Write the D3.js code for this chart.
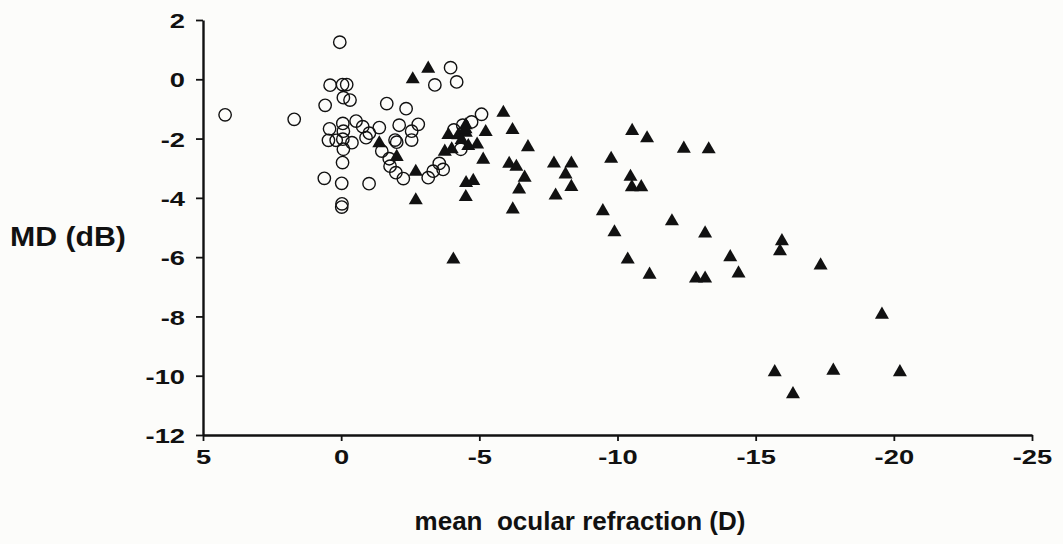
<!DOCTYPE html>
<html>
<head>
<meta charset="utf-8">
<script src="https://cdn.jsdelivr.net/npm/d3@7"></script>
<style>
  html, body { margin: 0; padding: 0; background: #fcfcfa; }
  svg { display: block; }
</style>
</head>
<body>
<svg id="chart" width="1063" height="544"></svg>
<script>
// Emmetropic / hyperopic eyes (open circles): [refraction D, MD dB]
const openGroup = [
  [4.2, -1.2], [1.7, -1.35], [0.05, 1.25], [0.4, -0.2], [-0.05, -0.18], [-0.2, -0.18],
  [-0.08, -0.62], [-0.32, -0.7], [0.58, -0.88], [0.42, -1.67], [-0.06, -1.49], [-0.08, -1.75],
  [-0.54, -1.41], [-0.78, -1.6], [-1.02, -1.82], [-1.38, -1.63], [0.46, -2.06], [0.18, -2.06],
  [-0.06, -2.02], [-0.39, -2.14], [-0.9, -1.97], [-1.95, -2.05], [-2.1, -1.55], [-1.65, -0.82],
  [-0.08, -2.36], [-0.05, -2.81], [0.61, -3.34], [-0.02, -3.51], [-1.01, -3.52], [-0.02, -4.31],
  [-0.03, -4.2], [-1.47, -2.42], [-1.74, -2.68], [-1.77, -2.93], [-1.98, -3.15], [-2.25, -3.35],
  [-2.01, -2.12], [-2.35, -0.99], [-2.55, -1.75], [-2.55, -2.05], [-2.79, -1.52], [-3.15, -3.32],
  [-3.33, -3.1], [-3.69, -3.04], [-3.55, -2.84], [-3.39, -0.19], [-3.96, 0.39], [-4.18, -0.09],
  [-4.08, -1.71], [-4.72, -1.44], [-5.08, -1.18], [-4.33, -2.36], [-4.4, -1.55]
];

// Myopic eyes (filled triangles): [refraction D, MD dB]
const filledGroup = [
  [-2.59, 0.0], [-3.15, 0.36], [-1.38, -2.16], [-2.01, -2.62], [-2.7, -3.12], [-2.7, -4.08],
  [-3.88, -1.88], [-4.24, -1.89], [-3.75, -2.44], [-4.0, -2.36], [-4.51, -1.55], [-4.51, -1.8],
  [-4.6, -2.25], [-4.92, -2.2], [-5.23, -1.78], [-5.14, -2.71], [-4.36, -2.05], [-4.52, -3.5],
  [-4.78, -3.43], [-4.51, -3.97], [-4.06, -6.08], [-5.87, -1.13], [-6.2, -1.71], [-6.76, -2.29],
  [-6.08, -2.85], [-6.34, -2.95], [-6.64, -3.32], [-6.44, -3.72], [-6.21, -4.39], [-7.7, -2.84],
  [-8.33, -2.84], [-8.12, -3.21], [-8.33, -3.63], [-7.76, -3.92], [-9.77, -2.68], [-9.47, -4.45],
  [-9.89, -5.16], [-10.53, -1.74], [-11.07, -1.99], [-10.47, -3.29], [-10.52, -3.64], [-10.86, -3.64],
  [-10.37, -6.08], [-11.16, -6.59], [-11.97, -4.79], [-12.4, -2.34], [-13.3, -2.36], [-13.17, -5.2],
  [-12.84, -6.72], [-13.17, -6.72], [-14.08, -6.0], [-14.38, -6.55], [-15.95, -5.46], [-15.88, -5.8],
  [-17.35, -6.28], [-19.57, -7.94], [-15.69, -9.88], [-16.35, -10.62], [-17.81, -9.83], [-20.22, -9.88],
  [-4.5, -1.68]
];

const xTicks = [5, 0, -5, -10, -15, -20, -25];
const yTicks = [2, 0, -2, -4, -6, -8, -10, -12];
const xTitle = "mean\u00a0\u00a0ocular refraction (D)";
const yTitle = "MD (dB)";

const svg = d3.select("#chart");
const font = "'Liberation Sans', Arial, Helvetica, sans-serif";
const ink = "#111";
const labelStretch = 1.3;   // tick labels are set in a wide bold face
// plain hyphen for negative numbers
const fmt = d => String(d);

const x = d3.scaleLinear().domain([5, -25]).range([203, 1032]);
const y = d3.scaleLinear().domain([-12, 2]).range([435, 20]);

// Axes
const xAxis = svg.append("g")
  .attr("transform", `translate(0,${y(-12)})`)
  .call(d3.axisBottom(x).tickValues(xTicks).tickFormat(fmt).tickSize(6).tickPadding(8).tickSizeOuter(0));
const yAxis = svg.append("g")
  .attr("transform", `translate(${x(5)},0)`)
  .call(d3.axisLeft(y).tickValues(yTicks).tickFormat(fmt).tickSize(7).tickPadding(11).tickSizeOuter(0));

[xAxis, yAxis].forEach(g => {
  g.select(".domain").attr("stroke", ink).attr("stroke-width", 2.4);
  g.selectAll(".tick line").attr("stroke", ink).attr("stroke-width", 1.8);
  g.selectAll(".tick text")
    .attr("fill", ink)
    .style("font-family", font)
    .style("font-weight", "bold")
    .style("font-size", "21px")
    .attr("transform", function () {
      const xa = +this.getAttribute("x") || 0;
      return `translate(${xa * (1 - labelStretch)},0) scale(${labelStretch},1)`;
    });
});
yAxis.selectAll(".tick text").attr("dy", "0.36em");

// Axis titles
svg.append("text")
  .attr("transform", "translate(10,246) scale(1.08,1)")
  .attr("fill", ink)
  .style("font-family", font).style("font-weight", "bold").style("font-size", "28px")
  .text(yTitle);

svg.append("text")
  .attr("x", 580).attr("y", 530)
  .attr("text-anchor", "middle")
  .attr("fill", ink)
  .style("font-family", font).style("font-weight", "bold").style("font-size", "26px")
  .text(xTitle);

// Markers
svg.append("g").selectAll("circle")
  .data(openGroup).join("circle")
  .attr("cx", d => x(d[0])).attr("cy", d => y(d[1]))
  .attr("r", 6.2)
  .attr("fill", "none")
  .attr("stroke", ink).attr("stroke-width", 1.4);

const tri = d3.symbol().type(d3.symbolTriangle).size(85);
svg.append("g").selectAll("path")
  .data(filledGroup).join("path")
  .attr("transform", d => `translate(${x(d[0])},${y(d[1])})`)
  .attr("d", tri)
  .attr("fill", ink);
</script>
</body>
</html>
